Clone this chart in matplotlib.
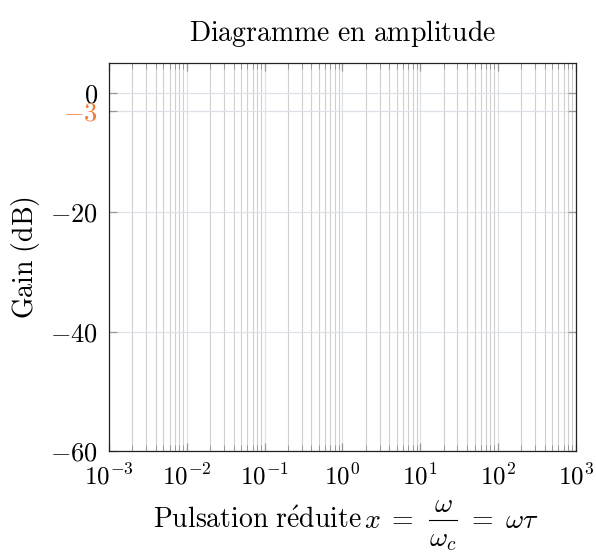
import matplotlib
matplotlib.use("Agg")
import matplotlib.pyplot as plt
from matplotlib.lines import Line2D

plt.rcParams["mathtext.fontset"] = "cm"
plt.rcParams["font.family"] = "serif"
plt.rcParams["font.serif"] = ["cmr10", "DejaVu Serif"]
plt.rcParams["axes.formatter.use_mathtext"] = True

# axis setup (no curve is drawn)
x_limits = [1e-3, 1e3]
y_limits = [-60, 5]
y_ticks = [0, -3, -20, -40, -60]
y_tick_labels = ["$0$", "$-3$", "$-20$", "$-40$", "$-60$"]
x_decades = [-3, -2, -1, 0, 1, 2, 3]

ORANGE = "#f07b34"
MAJOR_GRID = "#dde1e8"
MINOR_GRID = "#cfcfcf"
TICK_COLOR = "#999999"

W, H = 596, 554


def px(x, y):
    # pixel position (from top-left) -> figure fraction
    return x / W, (H - y) / H


fig = plt.figure(figsize=(W / 100, H / 100), dpi=100)
ax = fig.add_axes([0.183, 0.186, 0.783, 0.700])

ax.set_xscale("log")
ax.set_xlim(*x_limits)
ax.set_ylim(*y_limits)

ax.set_xticks([10.0 ** d for d in x_decades])
ax.set_xticklabels([f"$10^{{{d}}}$" for d in x_decades])
minor = [m * 10.0 ** d for d in x_decades[:-1] for m in range(2, 10)]
ax.set_xticks(minor, minor=True)
ax.set_yticks(y_ticks)
ax.set_yticklabels(y_tick_labels)
ax.get_yticklabels()[1].set_color(ORANGE)

ax.grid(True, which="major", axis="both", color=MAJOR_GRID, lw=0.9)
ax.grid(True, which="minor", axis="x", color=MINOR_GRID, lw=0.8)
ax.set_axisbelow(True)

ax.tick_params(which="both", direction="in", top=True, right=True, color=TICK_COLOR)
ax.tick_params(which="major", length=6, width=0.9)
ax.tick_params(which="minor", length=4, width=0.7)
ax.tick_params(axis="y", which="major", pad=8, labelsize=19)
ax.tick_params(axis="x", which="major", pad=9, labelsize=18)

for spine in ax.spines.values():
    spine.set_color("#222222")
    spine.set_linewidth(0.9)

ax.set_title(r"$\mathrm{Diagramme\ en\ amplitude}$", fontsize=20, pad=16)
ax.set_ylabel(r"$\mathrm{Gain\ (dB)}$", fontsize=20, labelpad=6)

# x label built in pieces so the fraction is as tall as the LaTeX one
fs = 20
fig.text(*px(153, 528), r"$\mathrm{Pulsation\ r\acute{e}duite}$", fontsize=fs,
         ha="left", va="baseline")
fig.text(*px(414, 528), r"$x\;=$", fontsize=fs, ha="right", va="baseline")
fig.text(*px(443, 512), r"$\omega$", fontsize=fs, ha="center", va="baseline")
fig.text(*px(443, 546), r"$\omega_c$", fontsize=fs, ha="center", va="baseline")
x0, y0 = px(429, 520)
x1, _ = px(457, 520)
fig.add_artist(Line2D([x0, x1], [y0, y0], transform=fig.transFigure,
                      color="black", lw=0.8))
fig.text(*px(467, 528), r"$=\;\omega\tau$", fontsize=fs, ha="left", va="baseline")

fig.savefig("out.png", dpi=100)
